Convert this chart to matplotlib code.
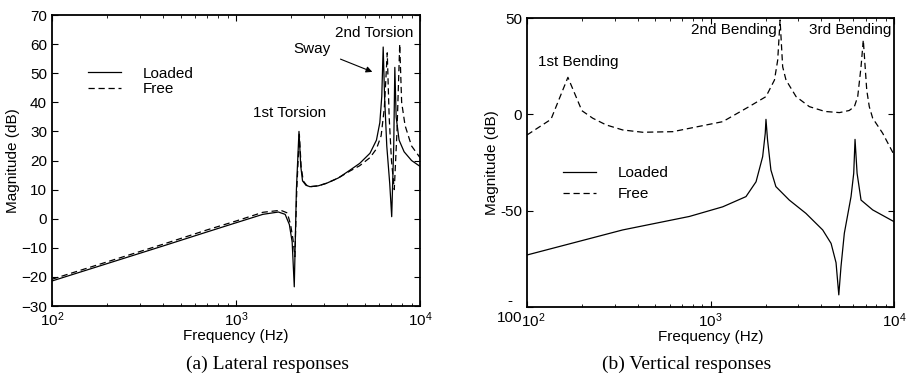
import matplotlib
matplotlib.use("Agg")
import matplotlib.pyplot as plt
from matplotlib.transforms import ScaledTranslation

plt.rcParams['font.family'] = ['Liberation Sans', 'DejaVu Sans']
plt.rcParams['mathtext.fontset'] = 'custom'
plt.rcParams['mathtext.rm'] = 'Liberation Sans'
plt.rcParams['mathtext.it'] = 'Liberation Sans'

# (a) lateral responses
lat_f_loaded = [100, 200, 400, 700, 1000, 1400, 1700, 1850, 1950, 2020, 2074, 2130, 2200, 2250, 2300,
                2400, 2525, 2800, 3112, 3600, 4166, 4700, 5350, 5800, 6050, 6200, 6310, 6420, 6600,
                6850, 7020, 7200, 7300, 7420, 7700, 8200, 9000, 10000]
lat_db_loaded = [-21.4, -15.4, -9.4, -4.5, -1.4, 1.5, 2.3, 1.5, -2, -8, -23.4, 10, 30, 18, 13,
                 11.5, 11, 11.3, 12.2, 14, 16.7, 19, 22.5, 27, 33, 42, 59, 42, 25,
                 12, 0.7, 25, 52, 35, 27, 23, 20, 18]
lat_f_free = [100, 200, 400, 700, 1000, 1400, 1750, 1900, 1980, 2040, 2090, 2140, 2210, 2260, 2320,
              2420, 2525, 2800, 3112, 3600, 4166, 4700, 5350, 5800, 6150, 6400, 6640, 6800, 7000,
              7250, 7500, 7760, 7950, 8300, 9000, 10000]
lat_db_free = [-20.8, -14.8, -8.8, -3.8, -0.8, 2.2, 2.9, 2, -2, -7, -13, 10, 29, 18, 13,
               11.5, 11, 11.3, 12.2, 14, 16.4, 18.2, 21, 24, 28.5, 38, 57, 35, 20,
               10, 30, 60, 40, 32, 25, 21]

# (b) vertical responses
ver_f_loaded = [100, 332, 767, 1165, 1560, 1770, 1923, 1987, 2005, 2045, 2133, 2270, 2686, 3310,
                4085, 4539, 4830, 5000, 5140, 5360, 5830, 6030, 6130, 6290, 6610, 7650, 10000]
ver_db_loaded = [-73, -60, -53, -48, -42.7, -35, -22, -9.8, -2.6, -13.3, -28.9, -37.5, -44.5, -51.4,
                 -60, -67, -77, -93.7, -79, -61.7, -42.7, -30.6, -13, -30.6, -44.5, -49.6, -55.7]
ver_f_free = [100, 135, 167, 199, 228, 270, 332, 427, 622, 763, 1165, 1622, 2005, 2230, 2323,
              2393, 2472, 2578, 2925, 3455, 4200, 5040, 5700, 6080, 6340, 6610, 6800, 7100, 7330,
              7650, 8670, 10000]
ver_db_free = [-10.7, -2.6, 19.2, 1.9, -2, -5.5, -8.1, -9.3, -9, -7.3, -3.8, 4, 9.2, 17.8, 28.2,
               49, 24.7, 17.8, 9.2, 4, 1.5, 0.9, 2, 4, 9.2, 24.7, 38.6, 12.6, 4,
               -2, -9.8, -21]

fig = plt.figure(figsize=(9.12, 3.8), dpi=100)
ax1 = fig.add_axes([0.057, 0.1947, 0.4035, 0.7658])
ax2 = fig.add_axes([0.5779, 0.1921, 0.4024, 0.7605])

fs = 11
dash = (0, (5, 3))
for ax in (ax1, ax2):
    ax.set_xscale('log')
    ax.set_xlim(100, 10000)
    ax.tick_params(which='both', direction='in', top=True, right=True, labelsize=fs)
    ax.tick_params(which='major', length=4, width=0.8)
    ax.tick_params(which='minor', length=2.5, width=0.6)
    for s in ax.spines.values():
        s.set_linewidth(1.3)
    ax.set_xlabel('Frequency (Hz)', fontsize=fs, labelpad=0)

ax1.set_ylabel('Magnitude (dB)', fontsize=fs, labelpad=1)
ax2.set_ylabel('Magnitude (dB)', fontsize=fs, labelpad=-2)

ax1.plot(lat_f_loaded, lat_db_loaded, color='black', lw=0.9, label='Loaded')
ax1.plot(lat_f_free, lat_db_free, color='black', lw=0.9, ls=dash, label='Free')
ax1.set_ylim(-30, 70)
ax1.set_yticks(range(-30, 71, 10))
ax1.legend(loc='upper left', bbox_to_anchor=(0.06, 0.87), frameon=False, fontsize=fs,
           handlelength=2.2, handletextpad=1.4, labelspacing=0.12)
ax1.text(1963, 36.3, '1st Torsion', ha='center', va='center', fontsize=fs)
ax1.text(2588, 58.3, 'Sway', ha='center', va='center', fontsize=fs)
ax1.text(5623, 63.8, '2nd Torsion', ha='center', va='center', fontsize=fs)
ax1.annotate('', xy=(5690, 50.1), xytext=(3580, 55.2),
             arrowprops=dict(arrowstyle='-|>', color='black', lw=0.8, mutation_scale=9))

ax2.plot(ver_f_loaded, ver_db_loaded, color='black', lw=0.9, label='Loaded')
ax2.plot(ver_f_free, ver_db_free, color='black', lw=0.9, ls=dash, label='Free')
ax2.set_ylim(-100, 50)
ax2.set_yticks([-100, -50, 0, 50])
ax2.set_yticklabels(['-\n100', '-50', '0', '50'])
for lab in ax2.get_yticklabels():
    lab.set_multialignment('center')
ax2.set_xticks([100, 1000, 10000])
# the 10^2 label sits just right of the stray "100"
first = ax2.get_xticklabels()[0]
first.set_transform(first.get_transform() + ScaledTranslation(6 / 100, 0, fig.dpi_scale_trans))
ax2.legend(loc='upper left', bbox_to_anchor=(0.06, 0.535), frameon=False, fontsize=fs,
           handlelength=2.2, handletextpad=1.4, labelspacing=0.45)
ax2.text(190, 27.2, '1st Bending', ha='center', va='center', fontsize=fs)
ax2.text(1334, 43.8, '2nd Bending', ha='center', va='center', fontsize=fs)
ax2.text(5754, 43.8, '3rd Bending', ha='center', va='center', fontsize=fs)

fig.text(0.2933, 0.04, '(a) Lateral responses', ha='center', va='center',
         fontsize=14, family='Liberation Serif')
fig.text(0.753, 0.04, '(b) Vertical responses', ha='center', va='center',
         fontsize=14, family='Liberation Serif')

fig.savefig('out.png', dpi=100)
